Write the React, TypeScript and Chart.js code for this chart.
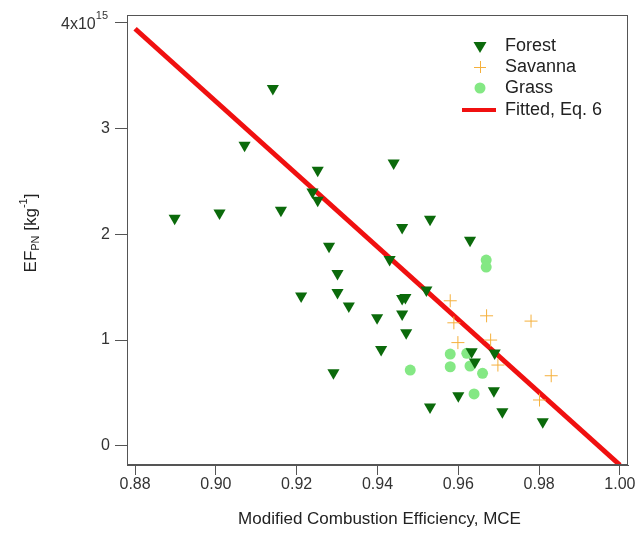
import React, { useEffect, useRef } from "react";
import { Chart, registerables } from "chart.js";

Chart.register(...registerables);

// Values of EF_PN are in units of 10^15 kg^-1
const forestMCE = [0.8898, 0.9009, 0.9071, 0.9141, 0.9161, 0.9211, 0.9252, 0.9239, 0.9252, 0.928, 0.9301, 0.9301, 0.9329, 0.9291, 0.9399, 0.9409, 0.944, 0.943, 0.9461, 0.9461, 0.9469, 0.9461, 0.9471, 0.9521, 0.953, 0.953, 0.96, 0.9629, 0.9633, 0.9641, 0.969, 0.9688, 0.9709, 0.9809];
const forestEF = [2.15, 2.2, 2.84, 3.375, 2.226, 1.415, 2.604, 2.399, 2.321, 1.887, 1.629, 1.45, 1.321, 0.692, 1.21, 0.912, 2.673, 1.761, 2.063, 1.393, 1.403, 1.245, 1.069, 1.472, 2.142, 0.368, 0.475, 1.943, 0.89, 0.792, 0.877, 0.522, 0.324, 0.229];

const savannaMCE = [0.958, 0.9589, 0.967, 0.978, 0.9599, 0.968, 0.9698, 0.983, 0.9801];
const savannaEF = [1.371, 1.163, 1.229, 1.179, 0.976, 1.0, 0.764, 0.663, 0.434];

const grassMCE = [0.9669, 0.9669, 0.958, 0.9621, 0.9481, 0.958, 0.9629, 0.966, 0.9639];
const grassEF = [1.755, 1.689, 0.868, 0.875, 0.717, 0.748, 0.755, 0.686, 0.491];

const fitMCE = [0.88, 1.0];
const fitEF = [3.94, -0.18];

const xTicks = [0.88, 0.9, 0.92, 0.94, 0.96, 0.98, 1.0];
const yTicks = [0, 1, 2, 3, 4];

const FONT = "'Liberation Sans', Arial, sans-serif";

const zip = (xs: number[], ys: number[]) => xs.map((x, i) => ({ x, y: ys[i] }));

const legendItems = [
  { label: "Forest", kind: "forest" },
  { label: "Savanna", kind: "savanna" },
  { label: "Grass", kind: "grass" },
  { label: "Fitted, Eq. 6", kind: "fit" },
];

const FOREST_C = "#0b6a0b";
const SAVANNA_C = "#f5b03c";
const GRASS_C = "#84e884";
const FIT_C = "#f01010";

export default function App() {
  const ref = useRef<HTMLCanvasElement | null>(null);

  useEffect(() => {
    if (!ref.current) return;
    const decor = {
      id: "decor",
      afterDraw(chart: any) {
        const ctx = chart.ctx as CanvasRenderingContext2D;
        const a = chart.chartArea;
        ctx.save();
        // frame
        ctx.strokeStyle = "#555";
        ctx.lineWidth = 1;
        ctx.strokeRect(a.left + 0.5, a.top + 0.5, a.right - a.left - 1, a.bottom - a.top - 1);

        // 4x10^15 tick label
        const ys = chart.scales.y;
        const y4 = ys.getPixelForValue(4);
        ctx.fillStyle = "#333";
        ctx.textBaseline = "middle";
        ctx.textAlign = "right";
        const sup = "15";
        ctx.font = `11px ${FONT}`;
        const supW = ctx.measureText(sup).width;
        const right = 108;
        ctx.fillText(sup, right, y4 - 6);
        ctx.font = `16px ${FONT}`;
        ctx.fillText("4x10", right - supW, y4 + 2);

        // y title
        ctx.save();
        ctx.translate(31, 233);
        ctx.rotate(-Math.PI / 2);
        ctx.fillStyle = "#222";
        const parts: [string, number, number][] = [
          ["EF", 17, 0],
          ["PN", 11, 5],
          [" [kg", 17, 0],
          ["-1", 11, -7],
          ["]", 17, 0],
        ];
        let total = 0;
        for (const [t, s] of parts) {
          ctx.font = `${s}px ${FONT}`;
          total += ctx.measureText(t).width;
        }
        let cx = -total / 2;
        ctx.textAlign = "left";
        for (const [t, s, dy] of parts) {
          ctx.font = `${s}px ${FONT}`;
          ctx.fillText(t, cx, dy);
          cx += ctx.measureText(t).width;
        }
        ctx.restore();

        // x title
        ctx.fillStyle = "#222";
        ctx.font = `17px ${FONT}`;
        ctx.textAlign = "center";
        ctx.fillText("Modified Combustion Efficiency, MCE", (a.left + a.right) / 2 + 2, 519);

        // legend
        const lx = 480;
        const tx = 505;
        const rows = [46, 67, 88, 110];
        legendItems.forEach((it, i) => {
          const y = rows[i];
          if (it.kind === "forest") {
            ctx.fillStyle = FOREST_C;
            ctx.beginPath();
            ctx.moveTo(lx - 6.5, y - 4);
            ctx.lineTo(lx + 6.5, y - 4);
            ctx.lineTo(lx, y + 7);
            ctx.closePath();
            ctx.fill();
          } else if (it.kind === "savanna") {
            ctx.strokeStyle = SAVANNA_C;
            ctx.lineWidth = 1;
            ctx.beginPath();
            ctx.moveTo(lx - 6, y + 0.5);
            ctx.lineTo(lx + 6, y + 0.5);
            ctx.moveTo(lx + 0.5, y - 6);
            ctx.lineTo(lx + 0.5, y + 6);
            ctx.stroke();
          } else if (it.kind === "grass") {
            ctx.fillStyle = GRASS_C;
            ctx.beginPath();
            ctx.arc(lx, y, 5.5, 0, Math.PI * 2);
            ctx.fill();
          } else {
            ctx.strokeStyle = FIT_C;
            ctx.lineWidth = 4;
            ctx.beginPath();
            ctx.moveTo(462, y);
            ctx.lineTo(496, y);
            ctx.stroke();
          }
          ctx.fillStyle = "#222";
          ctx.font = `18px ${FONT}`;
          ctx.textAlign = "left";
          ctx.fillText(it.label, tx, y);
        });
        ctx.restore();
      },
    };

    const chart = new Chart(ref.current, {
      type: "scatter",
      data: {
        datasets: [
          {
            label: "Fitted, Eq. 6",
            data: zip(fitMCE, fitEF),
            showLine: true,
            borderColor: FIT_C,
            borderWidth: 5,
            pointRadius: 0,
            order: 4,
          } as any,
          {
            label: "Forest",
            data: zip(forestMCE, forestEF),
            pointStyle: "triangle",
            rotation: 180,
            radius: 7,
            backgroundColor: FOREST_C,
            borderColor: FOREST_C,
            borderWidth: 0,
            order: 1,
          },
          {
            label: "Savanna",
            data: zip(savannaMCE, savannaEF),
            pointStyle: "cross",
            radius: 6.5,
            borderColor: SAVANNA_C,
            backgroundColor: SAVANNA_C,
            borderWidth: 1,
            order: 2,
          },
          {
            label: "Grass",
            data: zip(grassMCE, grassEF),
            pointStyle: "circle",
            radius: 5.5,
            backgroundColor: GRASS_C,
            borderColor: GRASS_C,
            borderWidth: 0,
            order: 3,
          },
        ],
      },
      options: {
        animation: false,
        responsive: false,
        layout: { padding: { top: 15, right: 8, left: 0, bottom: 0 } },
        plugins: { legend: { display: false }, tooltip: { enabled: false } },
        scales: {
          x: {
            type: "linear",
            min: 0.878,
            max: 1.002,
            afterBuildTicks: (s: any) => {
              s.ticks = xTicks.map((v) => ({ value: v }));
            },
            afterFit: (s: any) => {
              s.height = 69;
            },
            ticks: {
              color: "#333",
              font: { family: FONT, size: 16 },
              padding: 0,
              callback: (v: any) => Number(v).toFixed(2),
            },
            grid: { display: true, drawOnChartArea: false, drawTicks: true, tickLength: 10, color: "#555" },
            border: { display: true, color: "#555" },
          },
          y: {
            type: "linear",
            min: -0.18,
            max: 4.07,
            afterBuildTicks: (s: any) => {
              s.ticks = yTicks.map((v) => ({ value: v }));
            },
            afterFit: (s: any) => {
              s.width = 127;
            },
            ticks: {
              color: "#333",
              font: { family: FONT, size: 16 },
              padding: 5,
              callback: (v: any) => (Number(v) === 4 ? "" : String(v)),
            },
            grid: { display: true, drawOnChartArea: false, drawTicks: true, tickLength: 12, color: "#555" },
            border: { display: true, color: "#555" },
          },
        },
      },
      plugins: [decor],
    });
    return () => chart.destroy();
  }, []);

  return (
    <div style={{ position: "absolute", left: 0, top: 0, width: 636, height: 534, background: "#fff" }}>
      <canvas ref={ref} width={636} height={534} style={{ width: 636, height: 534 }} />
    </div>
  );
}
